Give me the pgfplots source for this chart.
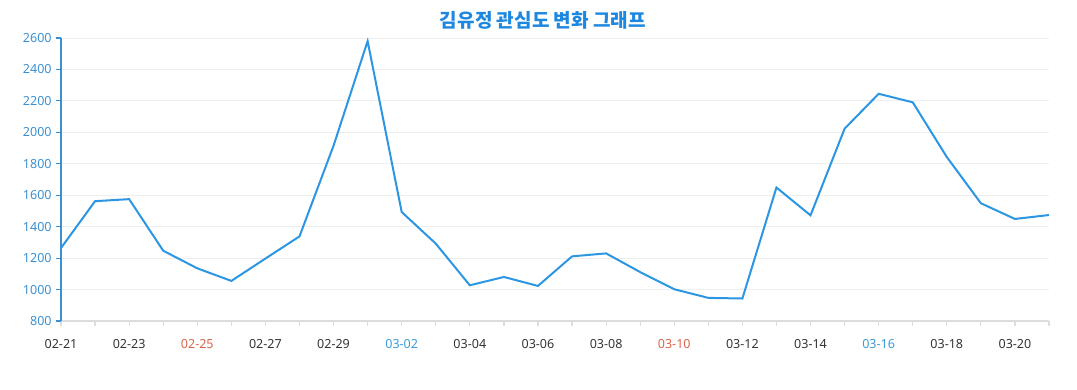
\documentclass[border=0pt]{standalone}
\usepackage{pgfplots}
\pgfplotsset{compat=1.18}
\usepackage{fontspec}
\setmainfont{Noto Sans}
\newfontfamily\kr{Noto Sans CJK KR}
\definecolor{linec}{HTML}{2C96E2}
\definecolor{ylab}{HTML}{3A90D2}
\definecolor{titlec}{HTML}{1E88E0}
\definecolor{gridc}{HTML}{EEEEEE}
\definecolor{axgray}{HTML}{DDDDDD}
\definecolor{redl}{HTML}{D9634A}
\definecolor{bluel}{HTML}{3A9AD6}
\definecolor{xlab}{HTML}{333333}
\begin{document}
\begin{tikzpicture}
\begin{axis}[
  scale only axis,
  width=741pt, height=212.25pt,
  xmin=0, xmax=29, ymin=800, ymax=2600,
  axis lines*=left,
  x axis line style={axgray, line width=1.2pt},
  y axis line style={ylab, line width=1pt},
  tick align=outside,
  major tick length=4pt,
  xtick={0,...,29},
  xticklabels={02-21,,02-23,,\textcolor{redl}{02-25},,02-27,,02-29,,\textcolor{bluel}{03-02},,03-04,,03-06,,03-08,,\textcolor{redl}{03-10},,03-12,,03-14,,\textcolor{bluel}{03-16},,03-18,,03-20,},
  ytick={800,1000,...,2600},
  xtick style={axgray, line width=0.9pt},
  ytick style={ylab, line width=0.9pt},
  ymajorgrids,
  grid style={gridc, line width=0.6pt},
  /pgf/number format/assume math mode=true,
  /pgf/number format/1000 sep={},
  ticklabel style={font=\fontsize{9.4}{11}\selectfont},
  yticklabel style={text=ylab, xshift=0.5pt},
  xticklabel style={text=xlab, yshift=-6pt},
  clip=false,
]
\addplot[linec, line width=1.5pt] coordinates {
(0,1264) (1,1562) (2,1575) (3,1247) (4,1135) (5,1055) (6,1197) (7,1338) (8,1915) (9,2580)
(10,1493) (11,1292) (12,1027) (13,1080) (14,1023) (15,1211) (16,1230) (17,1111) (18,1002) (19,947)
(20,943) (21,1649) (22,1472) (23,2023) (24,2245) (25,2191) (26,1843) (27,1549) (28,1449) (29,1474)
};
\end{axis}
\node[font=\kr\bfseries\fontsize{14.3}{17}\selectfont, text=titlec] at ([xshift=-9pt, yshift=13.5pt]current axis.north) {김유정 관심도 변화 그래프};
\path ([xshift=-45.75pt, yshift=-51.75pt]current axis.south west) rectangle ([xshift=21pt, yshift=28.5pt]current axis.north east);
\end{tikzpicture}
\end{document}
